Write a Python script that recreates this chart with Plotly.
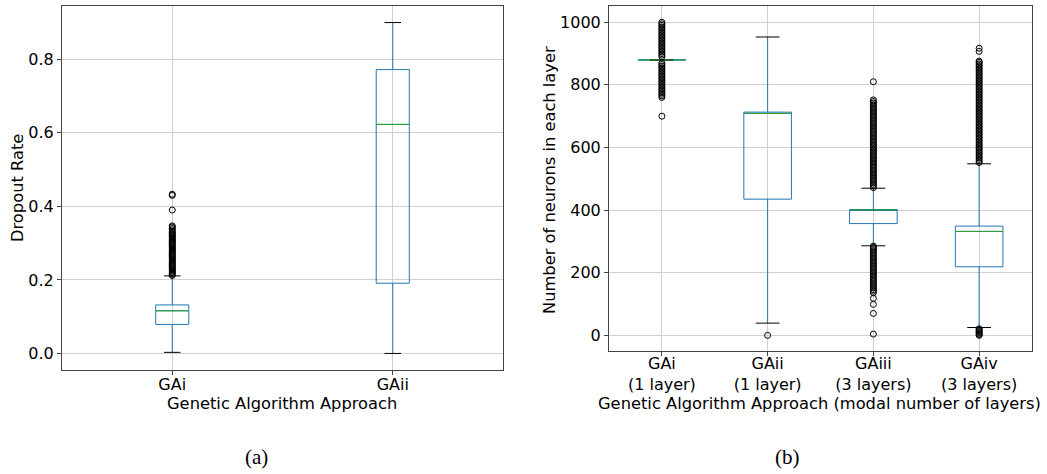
import plotly.graph_objects as go

# ---------------- data (a): dropout rate ----------------
cats_a = ["GAi", "GAii"]
q1_a = [0.079, 0.191]
med_a = [0.116, 0.623]
q3_a = [0.132, 0.772]
lo_a = [0.003, 0.0]
hi_a = [0.211, 0.900]
out_a_GAi = [0.212, 0.215, 0.218, 0.221, 0.224, 0.227, 0.230, 0.233, 0.236, 0.239,
             0.242, 0.245, 0.248, 0.251, 0.254, 0.257, 0.260, 0.263, 0.266, 0.269,
             0.272, 0.275, 0.278, 0.281, 0.284, 0.287, 0.290, 0.293, 0.296, 0.299,
             0.302, 0.305, 0.308, 0.311, 0.314, 0.317, 0.320, 0.323, 0.326, 0.329,
             0.332, 0.336, 0.340, 0.344, 0.347, 0.390, 0.430, 0.433]
out_a_GAii = []

# ---------------- data (b): neurons per layer ----------------
cats_b = ["GAi<br>(1 layer)", "GAii<br>(1 layer)", "GAiii<br>(3 layers)", "GAiv<br>(3 layers)"]
q1_b = [880, 435, 357, 219]
med_b = [880, 709, 401, 332]
q3_b = [880, 713, 402, 349]
lo_b = [880, 39, 286, 25]
hi_b = [880, 953, 470, 548]
out_b_GAi = [700, 760, 765, 770, 775, 780, 785, 790, 795, 800, 805, 810, 815, 820,
             825, 830, 835, 840, 845, 850, 855, 860, 865, 870, 890, 895, 900, 905,
             910, 915, 920, 925, 930, 935, 940, 945, 950, 955, 960, 965, 970, 975,
             980, 985, 990, 995, 1000]
out_b_GAii = [0]
out_b_GAiii = [4, 70, 99, 118, 136, 141, 146, 151, 156, 161, 166, 171, 176, 181, 186,
               191, 196, 201, 206, 211, 216, 221, 226, 231, 236, 241, 246, 251, 256,
               261, 266, 271, 276, 281, 285,
               472, 477, 482, 487, 492, 497, 502, 507, 512, 517, 522, 527, 532, 537,
               542, 547, 552, 557, 562, 567, 572, 577, 582, 587, 592, 597, 602, 607,
               612, 617, 622, 627, 632, 637, 642, 647, 652, 657, 662, 667, 672, 677,
               682, 687, 692, 697, 702, 707, 712, 717, 722, 727, 732, 737, 742, 747,
               752, 810]
out_b_GAiv = [0, 3, 6, 9, 12, 15, 18, 21,
              552, 557, 562, 567, 572, 577, 582, 587, 592, 597, 602, 607, 612, 617,
              622, 627, 632, 637, 642, 647, 652, 657, 662, 667, 672, 677, 682, 687,
              692, 697, 702, 707, 712, 717, 722, 727, 732, 737, 742, 747, 752, 757,
              762, 767, 772, 777, 782, 787, 792, 797, 802, 807, 812, 817, 822, 827,
              832, 837, 842, 847, 852, 857, 862, 867, 872, 876, 907, 917]

BLUE = "#1f77b4"
GREEN = "#2ca02c"
FONT = "DejaVu Sans"

fig = go.Figure()


def add_panel(xaxis, yaxis, cats, q1, med, q3, lo, hi, outliers, width):
    pos = list(range(1, len(cats) + 1))
    fig.add_trace(go.Box(
        x=pos, q1=q1, median=med, q3=q3, lowerfence=lo, upperfence=hi,
        width=width, whiskerwidth=0, boxpoints=False,
        line=dict(color=BLUE, width=1), fillcolor="rgba(0,0,0,0)",
        xaxis=xaxis, yaxis=yaxis, showlegend=False, hoverinfo="skip"))
    # caps
    cx, cy = [], []
    for p, l, h in zip(pos, lo, hi):
        cx += [p - width / 4, p + width / 4, None, p - width / 4, p + width / 4, None]
        cy += [l, l, None, h, h, None]
    fig.add_trace(go.Scatter(x=cx, y=cy, mode="lines", line=dict(color="black", width=1),
                             xaxis=xaxis, yaxis=yaxis, showlegend=False, hoverinfo="skip"))
    # medians
    mx, my = [], []
    for p, m in zip(pos, med):
        mx += [p - width / 2, p + width / 2, None]
        my += [m, m, None]
    fig.add_trace(go.Scatter(x=mx, y=my, mode="lines", line=dict(color=GREEN, width=1),
                             xaxis=xaxis, yaxis=yaxis, showlegend=False, hoverinfo="skip"))
    # fliers
    ox, oy = [], []
    for p, vals in zip(pos, outliers):
        ox += [p] * len(vals)
        oy += list(vals)
    fig.add_trace(go.Scatter(x=ox, y=oy, mode="markers",
                             marker=dict(symbol="circle-open", size=6, color="black",
                                         line=dict(width=1)),
                             xaxis=xaxis, yaxis=yaxis, showlegend=False, hoverinfo="skip"))


add_panel("x", "y", cats_a, q1_a, med_a, q3_a, lo_a, hi_a, [out_a_GAi, out_a_GAii], 0.15)
add_panel("x2", "y2", cats_b, q1_b, med_b, q3_b, lo_b, hi_b,
          [out_b_GAi, out_b_GAii, out_b_GAiii, out_b_GAiv], 0.45)

W, H = 1047, 474


def fx(px):
    return px / W


def fy(py):
    return 1 - py / H


axis_common = dict(showline=True, mirror=True, linecolor="#444", linewidth=1,
                   showgrid=True, gridcolor="#cfcfcf", gridwidth=1, zeroline=False,
                   ticks="outside", ticklen=4, tickcolor="#444",
                   tickfont=dict(family=FONT, size=16, color="black"))

fig.update_layout(
    width=W, height=H, margin=dict(l=0, r=0, t=0, b=0),
    paper_bgcolor="white", plot_bgcolor="white",
    font=dict(family=FONT, size=16, color="black"),
    xaxis=dict(domain=[fx(62), fx(503)], range=[0.5, 2.5], tickvals=[1, 2],
               ticktext=cats_a, anchor="y", ticklabelstandoff=-4, **axis_common),
    yaxis=dict(domain=[fy(370), fy(6)], range=[-0.045, 0.945],
               tickvals=[0.0, 0.2, 0.4, 0.6, 0.8], tickformat=".1f", anchor="x",
               **axis_common),
    xaxis2=dict(domain=[fx(609), fx(1032)], range=[0.5, 4.5], tickvals=[1, 2, 3, 4],
                ticktext=cats_b, anchor="y2", ticklabelstandoff=-6, **axis_common),
    yaxis2=dict(domain=[fy(351), fy(6)], range=[-50, 1052],
                tickvals=[0, 200, 400, 600, 800, 1000], anchor="x2", **axis_common),
)


def px_note(text, x, y, size=16, family=FONT, angle=0):
    fig.add_annotation(text=text, x=fx(x), y=fy(y), xref="paper", yref="paper",
                       xanchor="center", yanchor="middle", showarrow=False,
                       textangle=angle, font=dict(family=family, size=size, color="black"))


px_note("Genetic Algorithm Approach", 282, 403, size=16.3)
px_note("Genetic Algorithm Approach (modal number of layers)", 819, 403, size=16.3)
px_note("Dropout Rate", 17, 188, size=16.3, angle=-90)
px_note("Number of neurons in each layer", 549, 180, size=16.3, angle=-90)
px_note("(a)", 256, 457, size=21, family="Liberation Serif")
px_note("(b)", 787, 457, size=21, family="Liberation Serif")

# remove the default 8px page margin so the figure fills the window exactly
fig.write_html("out.html", config={"displayModeBar": False},
               post_script="document.body.style.margin='0';")
